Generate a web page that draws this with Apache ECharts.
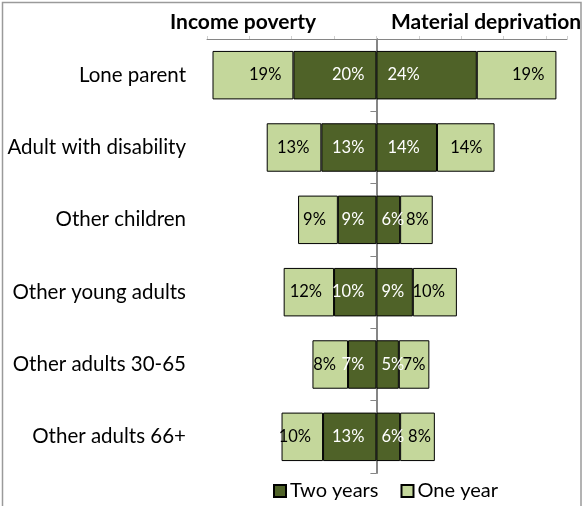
<!DOCTYPE html>
<html>
<head>
<meta charset="utf-8">
<script src="https://cdn.jsdelivr.net/npm/echarts@6/dist/echarts.min.js"></script>
<style>
  html, body { margin: 0; padding: 0; background: #fff; }
  #chart { width: 584px; height: 506px; }
</style>
</head>
<body>
<div id="chart"></div>
<script>
const categories = ["Lone parent", "Adult with disability", "Other children", "Other young adults", "Other adults 30-65", "Other adults 66+"];
// income poverty (drawn to the left of zero)
const incomeTwoYears = [19.6, 13.0, 9.1, 10.0, 6.7, 12.6];
const incomeOneYear = [19.1, 12.9, 9.4, 11.9, 8.4, 9.8];
// material deprivation (drawn to the right of zero)
const deprivationTwoYears = [23.7, 14.3, 5.6, 8.6, 5.3, 5.6];
const deprivationOneYear = [18.8, 13.6, 7.7, 10.4, 7.2, 8.2];

const dark = "#4f6228";
const light = "#c4d79b";
const font = "Lato";

const pct = p => Math.round(Math.abs(p.value)) + "%";

function leftSide(values) {
  return values.map(v => -v);
}
function rightSide(values, position, near, far) {
  return values.map(v => ({ value: v, label: { position, distance: Math.round(v) >= 10 ? far : near } }));
}

function barSeries(name, data, color, labelColor, position) {
  return {
    name, type: "bar", stack: "all", data, barWidth: "67%",
    itemStyle: { color, borderColor: "#000", borderWidth: 1 },
    label: { show: true, position, distance: 12, formatter: pct, color: labelColor, fontFamily: font, fontSize: 16.5 },
    emphasis: { disabled: true }
  };
}

const chart = echarts.init(document.getElementById("chart"), null, { renderer: "canvas" });
chart.setOption({
  animation: false,
  textStyle: { fontFamily: font },
  grid: { left: 207, right: 17, top: 39, bottom: 33, containLabel: false },
  graphic: [
    { type: "rect", shape: { x: 2.5, y: 2.5, width: 578.5, height: 540 }, style: { fill: null, stroke: "#9a9a9a", lineWidth: 1.5 }, silent: true },
    { type: "text", left: 170, top: 12, style: { text: "Income poverty", font: "bold 21px Lato", fill: "#000" } },
    { type: "text", left: 391, top: 12, style: { text: "Material deprivation", font: "bold 21px Lato", fill: "#000" } }
  ],
  legend: {
    data: ["Two years", "One year"],
    left: 268, top: 476,
    icon: "rect", itemWidth: 12, itemHeight: 12, itemGap: 22,
    selectedMode: false,
    textStyle: { fontFamily: font, fontSize: 20, color: "#000", padding: [0, 0, 0, -1] }
  },
  xAxis: {
    type: "value", position: "top", min: -40, max: 45, interval: 10,
    axisLine: { show: true, lineStyle: { color: "#868686", width: 1 } },
    axisTick: { show: true, length: 3, lineStyle: { color: "#d0d0d0" } },
    axisLabel: { show: false },
    splitLine: { show: false }
  },
  yAxis: [
    {
      type: "category", data: categories, inverse: true, position: "left",
      axisLine: { show: false, onZero: false },
      axisTick: { show: false },
      axisLabel: { margin: 21, fontFamily: font, fontSize: 20.5, color: "#000" }
    },
    {
      type: "category", data: categories, inverse: true, position: "left",
      axisLine: { show: true, onZero: true, lineStyle: { color: "#868686", width: 2 } },
      axisTick: { show: true, length: 6, lineStyle: { color: "#868686", width: 1 } },
      axisLabel: { show: false }
    }
  ],
  series: [
    barSeries("Two years", leftSide(incomeTwoYears), dark, "#fff", "insideRight"),
    barSeries("One year", leftSide(incomeOneYear), light, "#000", "insideRight"),
    barSeries("Two years", rightSide(deprivationTwoYears, "insideLeft", 5, 11), dark, "#fff", "insideLeft"),
    barSeries("One year", rightSide(deprivationOneYear, "insideRight", 4, 12), light, "#000", "insideRight")
  ]
});
</script>
</body>
</html>
